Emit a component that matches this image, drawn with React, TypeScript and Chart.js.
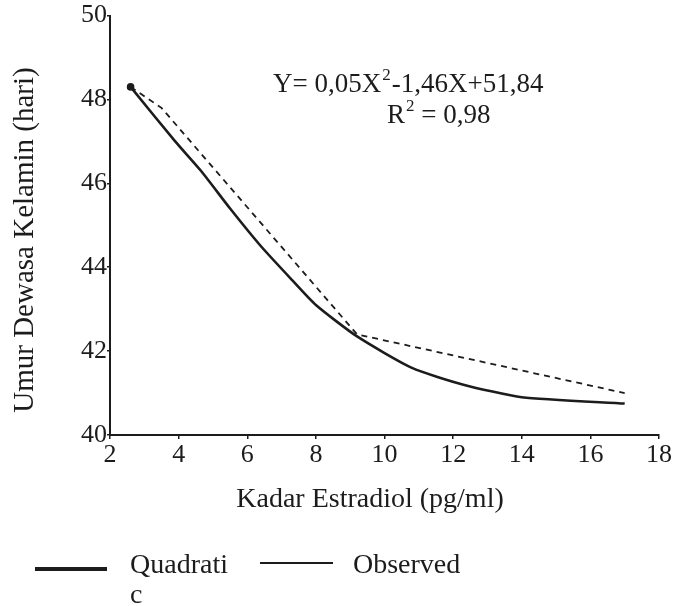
import React, { useEffect, useRef } from "react";
import { Chart, registerables } from "chart.js";

Chart.register(...registerables);

// ---- data ----
const quadX = [2.6, 3.9, 4.65, 5.5, 6.4, 7.3, 8.0, 9.2, 10.8, 12.3, 14.0, 17.0];
const quadY = [48.3, 47.0, 46.3, 45.4, 44.5, 43.7, 43.1, 42.35, 41.6, 41.2, 40.9, 40.75];
const obsX = [2.6, 3.5, 9.2, 17.0];
const obsY = [48.3, 47.8, 42.4, 41.0];
const xTickValues = [2, 4, 6, 8, 10, 12, 14, 16, 18];
const yTickValues = [40, 42, 44, 46, 48, 50];
const xTitle = "Kadar Estradiol (pg/ml)";
const yTitle = "Umur Dewasa Kelamin (hari)";
const eqLine1a = "Y= 0,05X";
const eqLine1b = "-1,46X+51,84";
const eqLine2a = "R";
const eqLine2b = " = 0,98";
const legendQuad = ["Quadrati", "c"];
const legendObs = "Observed";

const INK = "#1c1c1c";
const SERIF = "'Liberation Serif', 'Times New Roman', serif";

const textPlugin = {
  id: "textPlugin",
  afterDraw(chart: any) {
    const ctx = chart.ctx as CanvasRenderingContext2D;
    ctx.save();
    ctx.fillStyle = INK;
    ctx.textBaseline = "alphabetic";
    ctx.textAlign = "left";

    // axis titles
    ctx.font = `28px ${SERIF}`;
    ctx.textAlign = "center";
    ctx.fillText(xTitle, 370, 507);
    ctx.save();
    ctx.translate(33, 240);
    ctx.rotate(-Math.PI / 2);
    ctx.font = `29px ${SERIF}`;
    ctx.fillText(yTitle, 0, 0);
    ctx.restore();
    ctx.textAlign = "left";

    // equation
    const big = `27px ${SERIF}`;
    const small = `17px ${SERIF}`;
    let x = 273;
    ctx.font = big;
    ctx.fillText(eqLine1a, x, 92);
    x += ctx.measureText(eqLine1a).width;
    ctx.font = small;
    ctx.fillText("2", x + 1, 80);
    x += ctx.measureText("2").width + 2;
    ctx.font = big;
    ctx.fillText(eqLine1b, x, 92);

    x = 387;
    ctx.fillText(eqLine2a, x, 123);
    x += ctx.measureText(eqLine2a).width;
    ctx.font = small;
    ctx.fillText("2", x + 1, 111);
    x += ctx.measureText("2").width + 1;
    ctx.font = big;
    ctx.fillText(eqLine2b, x, 123);

    // legend
    ctx.strokeStyle = INK;
    ctx.lineCap = "butt";
    ctx.lineWidth = 4;
    ctx.beginPath();
    ctx.moveTo(35, 569);
    ctx.lineTo(107, 569);
    ctx.stroke();
    ctx.lineWidth = 2;
    ctx.beginPath();
    ctx.moveTo(260, 563);
    ctx.lineTo(333, 563);
    ctx.stroke();
    ctx.font = `28px ${SERIF}`;
    ctx.fillText(legendQuad[0], 130, 573);
    ctx.fillText(legendQuad[1], 130, 603);
    ctx.fillText(legendObs, 353, 573);
    ctx.restore();
  },
};

export default function App() {
  const ref = useRef<HTMLCanvasElement | null>(null);

  useEffect(() => {
    document.body.style.margin = "0";
    const canvas = ref.current;
    if (!canvas) return;
    const chart = new Chart(canvas, {
      type: "line",
      data: {
        datasets: [
          {
            label: "Quadratic",
            data: quadX.map((v, i) => ({ x: v, y: quadY[i] })),
            borderColor: INK,
            backgroundColor: INK,
            borderWidth: 2.6,
            pointRadius: quadX.map((_, i) => (i === 0 ? 2.5 : 0)),
            tension: 0.2,
            fill: false,
          },
          {
            label: "Observed",
            data: obsX.map((v, i) => ({ x: v, y: obsY[i] })),
            borderColor: INK,
            borderWidth: 1.8,
            borderDash: [6, 5],
            pointRadius: 0,
            tension: 0,
            fill: false,
          },
        ],
      },
      options: {
        animation: false,
        responsive: false,
        maintainAspectRatio: false,
        layout: { padding: { top: 15, right: 18, bottom: 85, left: 0 } },
        plugins: {
          legend: { display: false },
          tooltip: { enabled: false },
        },
        scales: {
          x: {
            type: "linear",
            min: 2,
            max: 18,
            afterBuildTicks: (s: any) => {
              s.ticks = xTickValues.map((v) => ({ value: v }));
            },
            afterFit: (s: any) => {
              s.height = 86;
            },
            grid: {
              display: true,
              drawOnChartArea: false,
              drawTicks: true,
              tickLength: 4,
              color: INK,
              lineWidth: 1.5,
            },
            border: { display: true, color: INK, width: 2 },
            ticks: {
              color: INK,
              padding: 1,
              maxRotation: 0,
              font: { family: SERIF, size: 26 },
            },
            title: { display: false },
          },
          y: {
            type: "linear",
            min: 40,
            max: 50,
            afterBuildTicks: (s: any) => {
              s.ticks = yTickValues.map((v) => ({ value: v }));
            },
            afterFit: (s: any) => {
              s.width = 110;
            },
            grid: {
              display: true,
              drawOnChartArea: false,
              drawTicks: true,
              tickLength: 3,
              color: INK,
              lineWidth: 1.5,
            },
            border: { display: true, color: INK, width: 2 },
            ticks: {
              color: INK,
              padding: 0,
              font: { family: SERIF, size: 26 },
            },
            title: { display: false },
          },
        },
      },
      plugins: [textPlugin],
    });
    return () => chart.destroy();
  }, []);

  return (
    <div style={{ width: 677, height: 606, background: "#fff" }}>
      <canvas ref={ref} width={677} height={606} style={{ display: "block" }} />
    </div>
  );
}
